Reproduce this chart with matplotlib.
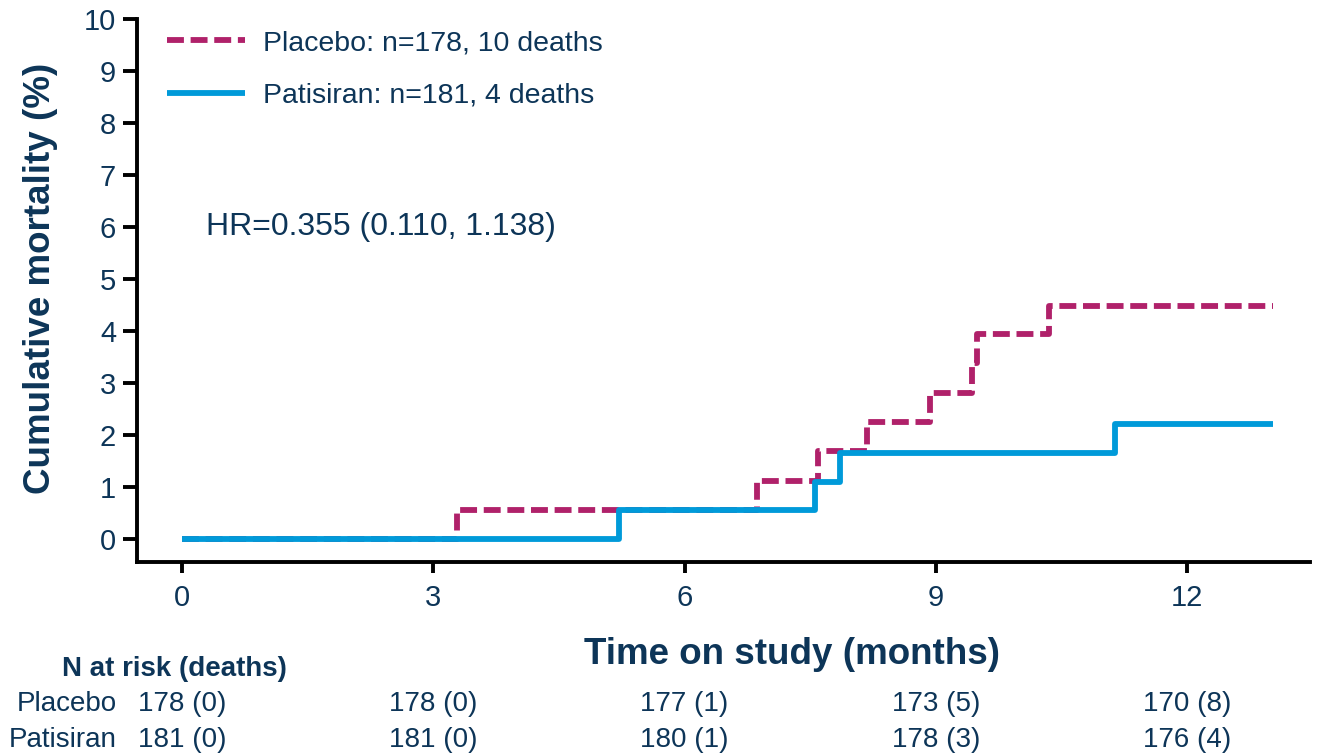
import numpy as np
import matplotlib
matplotlib.use('Agg')
import matplotlib.pyplot as plt
import matplotlib.transforms as mtransforms

plt.rcParams['font.family'] = ['Liberation Sans', 'DejaVu Sans']

## data
placebo_t = [0, 3.28, 6.87, 7.59, 8.18, 8.93, 9.43, 9.49, 10.35, 13.03]
placebo_v = [0, 0.56, 1.12, 1.69, 2.25, 2.81, 3.38, 3.95, 4.49, 4.49]
patisiran_t = [0, 5.22, 7.56, 7.86, 11.14, 13.03]
patisiran_v = [0, 0.56, 1.10, 1.65, 2.21, 2.21]

risk_times = [0, 3, 6, 9, 12]
placebo_risk = ['178 (0)', '178 (0)', '177 (1)', '173 (5)', '170 (8)']
patisiran_risk = ['181 (0)', '181 (0)', '180 (1)', '178 (3)', '176 (4)']

labels = ['Placebo: n=178, 10 deaths', 'Patisiran: n=181, 4 deaths']
hr_text = 'HR=0.355 (0.110, 1.138)'

navy = '#0d3558'
c_pla = '#b0216a'
c_pat = '#009ad9'

fig = plt.figure(figsize=(13.17, 7.54), dpi=100)
ax = fig.add_axes([137/1317, 1-562/754, (1310-137)/1317, (562-19)/754])

l1, = ax.step(placebo_t, placebo_v, where='post', color=c_pla, lw=4.2,
              dashes=(2.9, 1.15))
l2, = ax.step(patisiran_t, patisiran_v, where='post', color=c_pat, lw=4.2,
              solid_capstyle='butt')

ax.set_xlim(-0.54, 13.47)
ax.set_ylim(-0.44, 10)
ax.set_xticks(risk_times)
ax.set_yticks(range(0, 11))

for s in ['top', 'right']:
    ax.spines[s].set_visible(False)
for s in ['left', 'bottom']:
    ax.spines[s].set_linewidth(2.8)
    ax.spines[s].set_color('black')
ax.spines['left'].set_bounds(-0.44, 10)

ax.tick_params(axis='both', width=2.8, color='black',
               labelsize=21, labelcolor=navy)
ax.tick_params(axis='x', length=8, pad=8)
ax.tick_params(axis='y', length=10, pad=5)

ax.set_ylabel('Cumulative mortality (%)', fontsize=26.5, fontweight='bold', color=navy)
ax.yaxis.set_label_coords(-0.067, 0.523)
ax.set_xlabel('Time on study (months)', fontsize=26.5, fontweight='bold', color=navy)
ax.xaxis.set_label_coords(0.558, -0.138)

leg = ax.legend([l1, l2], labels, loc='upper left', bbox_to_anchor=(0.016, 1.0),
                frameon=False, fontsize=20.5, handlelength=2.74, handletextpad=0.63,
                labelspacing=0.93, borderaxespad=0.0)
for t in leg.get_texts():
    t.set_color(navy)

ax.text(0.29, 6.0, hr_text, fontsize=23, color=navy, ha='left', va='center')

# number at risk table
trans = mtransforms.blended_transform_factory(ax.transData, ax.transAxes)
ax.text(0.032, -0.197, 'N at risk (deaths)', transform=ax.transAxes,
        fontsize=20, fontweight='bold', color=navy, ha='center', va='center')
ax.text(-0.017, -0.2615, 'Placebo', transform=ax.transAxes, fontsize=20,
        color=navy, ha='right', va='center')
ax.text(-0.017, -0.328, 'Patisiran', transform=ax.transAxes, fontsize=20,
        color=navy, ha='right', va='center')
for x, a, b in zip(risk_times, placebo_risk, patisiran_risk):
    ax.text(x, -0.2615, a, transform=trans, fontsize=20, color=navy,
            ha='center', va='center', clip_on=False)
    ax.text(x, -0.328, b, transform=trans, fontsize=20, color=navy,
            ha='center', va='center', clip_on=False)

fig.savefig('out.png', dpi=100)
